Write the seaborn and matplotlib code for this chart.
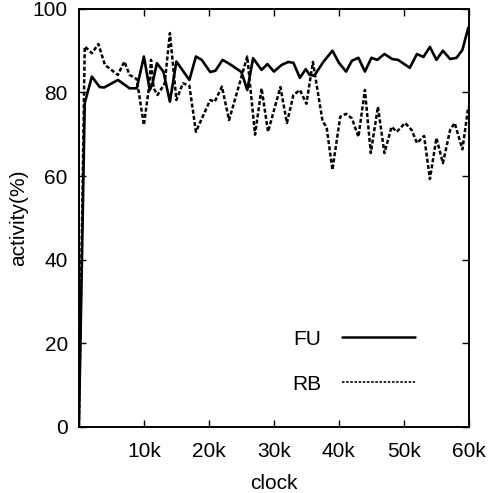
"""
Activity over clock cycles for FU and RB.
"""
import pandas as pd
import matplotlib
matplotlib.use("Agg")
import matplotlib.pyplot as plt
import seaborn as sns

# clock in thousands of cycles
fu_clock = [0, 0.9, 2.0, 3.2, 3.9, 6.0, 7.8, 8.9, 10.0, 10.9, 11.3, 12.0,
            13.0, 14.0, 15.0, 17.0, 18.0, 18.9, 20.2, 21.0, 22.1, 23.2,
            25.0, 25.9, 26.8, 28.1, 29.0, 30.0, 31.2, 32.2, 33.0, 34.0,
            34.9, 35.5, 36.2, 37.6, 39.0, 40.0, 41.1, 42.0, 43.0, 44.0,
            45.0, 45.9, 47.0, 48.2, 49.1, 50.9, 52.0, 53.0, 54.0, 55.0,
            56.0, 57.1, 58.1, 59.0, 59.9]
fu_activity = [0, 77.5, 83.8, 81.3, 81.2, 83.0, 81.0, 81.0, 88.6, 80.6, 82.0,
               87.0, 85.0, 77.8, 87.4, 83.0, 88.6, 87.8, 84.9, 85.2, 87.8,
               86.8, 84.9, 80.6, 88.2, 85.4, 86.8, 85.0, 86.6, 87.3, 87.1,
               83.5, 85.6, 84.2, 84.0, 87.3, 90.0, 87.1, 85.0, 87.6, 88.3,
               85.0, 88.3, 87.8, 89.2, 88.0, 87.8, 85.9, 89.2, 88.5, 90.9,
               87.8, 90.0, 88.0, 88.3, 90.2, 95.5]

rb_clock = [0, 0.9, 2.0, 3.0, 4.0, 6.0, 7.0, 7.8, 8.9, 10.0, 10.8, 11.1,
            11.5, 12.1, 13.2, 14.0, 15.0, 16.0, 17.0, 18.0, 20.2, 20.9,
            22.0, 23.1, 25.9, 27.1, 28.1, 29.1, 31.0, 32.0, 33.0, 34.0,
            35.0, 36.0, 37.5, 38.1, 39.0, 40.2, 41.1, 42.0, 43.0, 44.0,
            44.9, 46.0, 47.0, 48.1, 48.9, 50.2, 51.2, 52.0, 53.1, 54.0,
            55.0, 56.0, 57.1, 57.8, 59.0, 59.9]
rb_activity = [0, 91.0, 89.4, 91.6, 86.6, 84.2, 87.4, 84.2, 83.2, 72.2, 81.4,
               87.8, 81.0, 79.4, 82.2, 94.2, 78.2, 82.2, 81.6, 70.6, 78.2,
               77.8, 81.4, 73.4, 88.6, 69.9, 81.0, 70.6, 81.3, 72.7, 79.4,
               80.6, 77.3, 87.3, 73.0, 71.8, 61.5, 74.2, 74.9, 73.8, 69.4,
               80.6, 65.5, 76.6, 65.5, 71.8, 70.6, 72.7, 71.0, 67.9, 69.6,
               59.3, 69.1, 63.1, 71.0, 72.7, 66.4, 76.6]

xticks = [10, 20, 30, 40, 50, 60]
xtick_labels = ["10k", "20k", "30k", "40k", "50k", "60k"]
yticks = [0, 20, 40, 60, 80, 100]

fu = pd.DataFrame({"clock": fu_clock, "activity": fu_activity})
rb = pd.DataFrame({"clock": rb_clock, "activity": rb_activity})

sns.set_style("ticks")
plt.rcParams["font.family"] = ["Liberation Sans", "DejaVu Sans"]
plt.rcParams["text.color"] = "black"
plt.rcParams["axes.labelcolor"] = "black"

fig = plt.figure(figsize=(4.9, 4.93), dpi=100)
ax = fig.add_axes([0.161, 0.134, 0.796, 0.848])

sns.lineplot(data=fu, x="clock", y="activity", color="black", lw=1.9,
             estimator=None, sort=False, label="FU", ax=ax)
sns.lineplot(data=rb, x="clock", y="activity", color="black", lw=1.8,
             linestyle=(0, (1.6, 0.9)), estimator=None, sort=False, label="RB", ax=ax)

ax.set_xlim(0, 60)
ax.set_ylim(0, 100)
ax.set_xticks(xticks)
ax.set_xticklabels(xtick_labels)
ax.set_yticks(yticks)
ax.tick_params(direction="in", length=5, width=1, top=True, right=True,
               labelsize=15, colors="black")
ax.tick_params(axis="x", pad=11)
ax.tick_params(axis="y", pad=8)
for sp in ax.spines.values():
    sp.set_visible(True)
    sp.set_linewidth(1.4)
    sp.set_color("black")

ax.set_xlabel("clock", fontsize=15, labelpad=9)
ax.set_ylabel("activity(%)", fontsize=15, labelpad=3)

leg = ax.legend(loc="lower right", bbox_to_anchor=(0.91, 0.035), frameon=False,
                markerfirst=False, fontsize=15, handlelength=3.5,
                handletextpad=1.0, labelspacing=1.25)
for line in leg.get_lines():
    line.set_linewidth(1.8)
leg.get_lines()[1].set_linestyle((0, (1.5, 1)))
leg.get_lines()[1].set_linewidth(1.2)

fig.savefig("out.png", dpi=100)
